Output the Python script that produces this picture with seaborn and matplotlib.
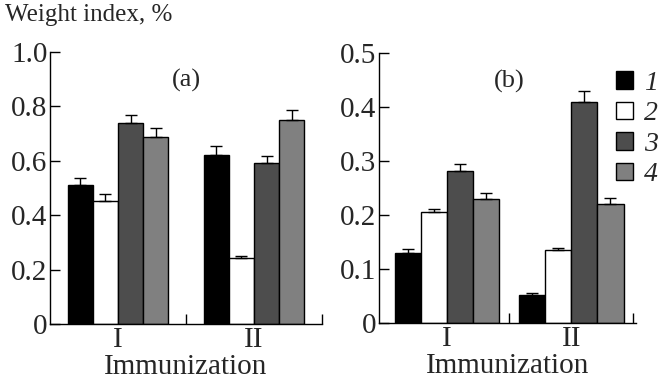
import matplotlib
matplotlib.use("Agg")
import matplotlib.pyplot as plt
import pandas as pd
import seaborn as sns
from matplotlib.ticker import FixedLocator

# Data
immunizations = ['I', 'II']
groups = ['1', '2', '3', '4']
colors = ['#000000', '#ffffff', '#4d4d4d', '#808080']

values_a = [[0.51, 0.453, 0.737, 0.688],
            [0.62, 0.244, 0.59, 0.749]]
errors_a = [[0.027, 0.023, 0.033, 0.032],
            [0.035, 0.006, 0.027, 0.037]]

values_b = [[0.130, 0.206, 0.281, 0.229],
            [0.052, 0.136, 0.410, 0.220]]
errors_b = [[0.008, 0.005, 0.013, 0.012],
            [0.003, 0.003, 0.019, 0.011]]

sns.set_theme(style='ticks')
plt.rcParams['font.family'] = ['Liberation Serif', 'DejaVu Serif']
plt.rcParams['mathtext.fontset'] = 'stix'


def make_df(values):
    rows = []
    for i, imm in enumerate(immunizations):
        for j, g in enumerate(groups):
            rows.append({'Immunization': imm, 'Group': g, 'Value': values[i][j]})
    return pd.DataFrame(rows)


def draw_panel(ax, values, errors, width, ymax, yticks, ticklabels, tag):
    df = make_df(values)
    sns.barplot(data=df, x='Immunization', y='Value', hue='Group', order=immunizations,
                hue_order=groups, palette=colors, edgecolor='black', linewidth=1,
                width=width, gap=0, ax=ax, legend=False)
    bar_conts = list(ax.containers)
    # upper-only error bars on each bar
    for j, cont in enumerate(bar_conts):
        for i, bar in enumerate(cont):
            xc = bar.get_x() + bar.get_width() / 2
            ax.errorbar(xc, bar.get_height(), yerr=[[0], [errors[i][j]]], fmt='none',
                        ecolor='black', elinewidth=1, capsize=4, capthick=1)
    ax.set_ylim(0, ymax)
    ax.set_yticks(yticks)
    ax.set_yticklabels(ticklabels)
    ax.set_xlabel('Immunization', fontsize=21)
    ax.xaxis.label.set_va('center')
    ax.xaxis.set_label_coords(0.5, -0.158)
    ax.set_ylabel('')
    ax.xaxis.set_minor_locator(FixedLocator([0.5, 1.5]))
    ax.tick_params(axis='x', which='major', length=0, labelsize=21, pad=2)
    ax.tick_params(axis='x', which='minor', direction='in', length=7, width=1, color='black')
    ax.tick_params(axis='y', direction='in', length=7, width=1, labelsize=21, pad=2, color='black')
    for s in ['left', 'bottom']:
        ax.spines[s].set_color('black')
        ax.spines[s].set_linewidth(1)
    sns.despine(ax=ax)
    ax.text(0.5, ymax * 0.895, tag, fontsize=19, ha='center', va='center')
    return bar_conts


fig = plt.figure(figsize=(6.68, 3.82), dpi=100)
ax_a = fig.add_axes([0.075, 0.152, 0.407, 0.712])
ax_b = fig.add_axes([0.567, 0.154, 0.385, 0.707])

draw_panel(ax_a, values_a, errors_a, 0.74, 1.0, [0, 0.2, 0.4, 0.6, 0.8, 1.0],
           ['0', '0.2', '0.4', '0.6', '0.8', '1.0'], '(a)')
ax_a.set_xlim(-0.5, 1.5)

conts_b = draw_panel(ax_b, values_b, errors_b, 0.84, 0.5, [0, 0.1, 0.2, 0.3, 0.4, 0.5],
                     ['0', '0.1', '0.2', '0.3', '0.4', '0.5'], '(b)')
ax_b.set_xlim(-0.55, 1.52)

# legend built from the bars of panel (b)
handles = [cont[0] for cont in conts_b]
leg = ax_b.legend(handles, groups, loc='upper left', bbox_to_anchor=(0.922, 0.815),
                  bbox_transform=fig.transFigure, frameon=False, fontsize=20,
                  handlelength=0.6, handleheight=0.6, handletextpad=0.4,
                  labelspacing=0.2, borderaxespad=0, borderpad=0)
for t in leg.get_texts():
    t.set_fontstyle('italic')

fig.text(0.008, 0.99, 'Weight index, %', fontsize=18, ha='left', va='top')

fig.savefig('out.png', dpi=100)
